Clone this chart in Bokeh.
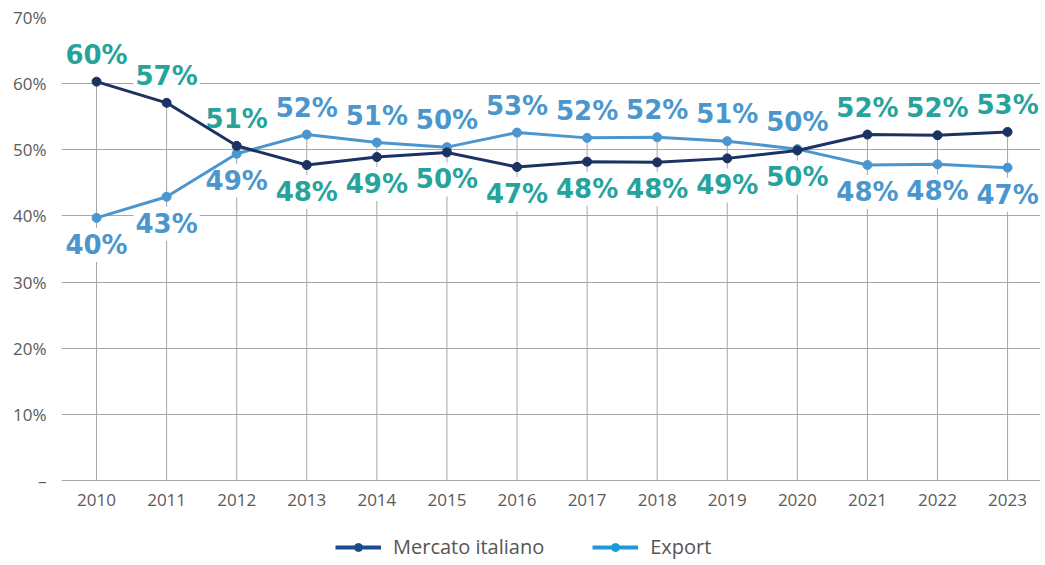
from bokeh.plotting import figure
from bokeh.models import ColumnDataSource, FixedTicker, Legend, LegendItem, Range1d
from bokeh.core.properties import value
from bokeh.embed import file_html
from bokeh.resources import INLINE

years = [2010, 2011, 2012, 2013, 2014, 2015, 2016, 2017, 2018, 2019, 2020, 2021, 2022, 2023]
mercato = [60.3, 57.1, 50.6, 47.7, 48.9, 49.6, 47.4, 48.2, 48.1, 48.7, 49.9, 52.3, 52.2, 52.7]
export = [39.7, 42.9, 49.4, 52.3, 51.1, 50.4, 52.6, 51.8, 51.9, 51.3, 50.1, 47.7, 47.8, 47.3]
y_ticks = [0, 10, 20, 30, 40, 50, 60, 70]
y_tick_labels = ["–", "10%", "20%", "30%", "40%", "50%", "60%", "70%"]
series_names = ["Mercato italiano", "Export"]

C_MERC_LINE = "#1b3262"
C_EXP_LINE = "#4c96d0"
C_MERC_LABEL = "#27a39b"
C_EXP_LABEL = "#4b96cc"
C_MERC_LEG = "#1a4b8f"
C_EXP_LEG = "#1c9ad6"
C_TICK = "#5a5a5a"
C_GRID = "#a6a6a6"

p = figure(width=1040, height=560,
           x_range=Range1d(2009.5, 2023.47), y_range=Range1d(-12.1, 70),
           output_backend="svg", toolbar_location=None, x_axis_location=None,
           min_border_left=61, min_border_top=17, min_border_right=0, min_border_bottom=0,
           background_fill_color="white", border_fill_color="white")
p.outline_line_color = None

# y axis
p.yaxis.ticker = FixedTicker(ticks=y_ticks)
p.yaxis.major_label_overrides = {t: l for t, l in zip(y_ticks, y_tick_labels)}
p.yaxis.axis_line_color = None
p.yaxis.major_tick_line_color = None
p.yaxis.minor_tick_line_color = None
p.yaxis.major_label_text_font = "Open Sans"
p.yaxis.major_label_text_font_size = "17px"
p.yaxis.major_label_text_color = C_TICK
p.yaxis.major_label_standoff = 9

p.xgrid.grid_line_color = None
p.ygrid.grid_line_color = C_GRID
p.ygrid.grid_line_width = 1

# year labels (category axis)
p.text(x=years, y=[0] * len(years), text=[str(y) for y in years], y_offset=20,
       text_font=value("Open Sans"), text_font_size="17px", text_color=C_TICK,
       text_align="center", text_baseline="middle")

# drop lines from 0 to the higher point
tops = [max(m, e) for m, e in zip(mercato, export)]
p.segment(x0=years, y0=[0] * len(years), x1=years, y1=tops, line_color=C_GRID, line_width=1)

# value labels
lx, ly, lt, lc, lo = [], [], [], [], []
for yr, m, e in zip(years, mercato, export):
    m_up = m >= e
    lx += [yr, yr]
    ly += [m, e]
    lt += [f"{round(m)}%", f"{round(e)}%"]
    lc += [C_MERC_LABEL, C_EXP_LABEL]
    lo += [-27 if m_up else 27, 27 if m_up else -27]
lsrc = ColumnDataSource(dict(x=lx, y=ly, t=lt, c=lc, o=lo))
p.text(x="x", y="y", text="t", text_color="c", y_offset="o", source=lsrc,
       text_font=value("DejaVu Sans"), text_font_style="bold", text_font_size="26px",
       text_align="center", text_baseline="middle",
       background_fill_color="white", padding=2)

# lines
p.line(years, export, line_color=C_EXP_LINE, line_width=3)
p.scatter(years, export, size=9, fill_color=C_EXP_LINE, line_color=C_EXP_LINE)
p.line(years, mercato, line_color=C_MERC_LINE, line_width=3)
p.scatter(years, mercato, size=9, fill_color=C_MERC_LINE, line_color=C_MERC_LINE)

# legend-only renderers (no drawable data)
nan = float("nan")
empty = ColumnDataSource(dict(x=[nan], y=[nan]))
lm1 = p.line("x", "y", source=empty, line_color=C_MERC_LEG, line_width=4)
lm2 = p.scatter("x", "y", source=empty, size=9, fill_color=C_MERC_LEG, line_color=C_MERC_LEG)
le1 = p.line("x", "y", source=empty, line_color=C_EXP_LEG, line_width=4)
le2 = p.scatter("x", "y", source=empty, size=9, fill_color=C_EXP_LEG, line_color=C_EXP_LEG)

legend = Legend(items=[LegendItem(label=series_names[0], renderers=[lm1, lm2]),
                       LegendItem(label=series_names[1], renderers=[le1, le2])],
                orientation="horizontal", location=(274, 0),
                border_line_color=None, background_fill_alpha=0,
                label_text_font="Open Sans", label_text_font_size="20px",
                label_text_color="#555555", glyph_width=46, label_standoff=12,
                spacing=48, padding=2, margin=0)
p.add_layout(legend, "center")

open("out.html", "w").write(file_html(p, INLINE))
